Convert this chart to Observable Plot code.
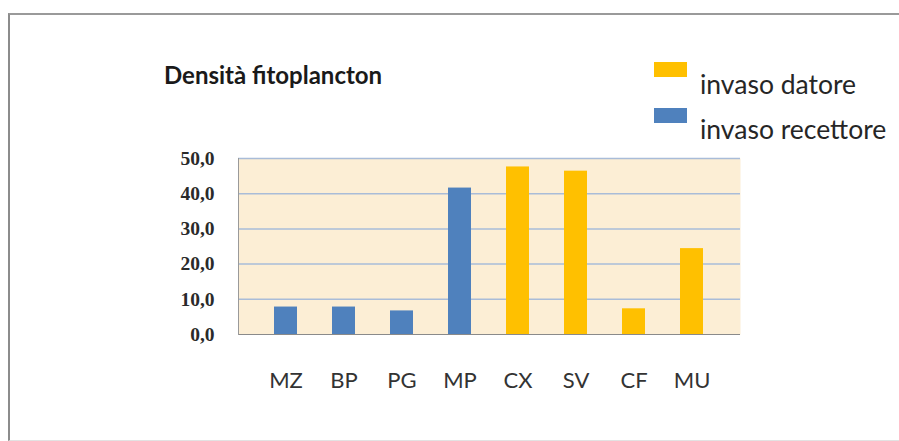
<!DOCTYPE html>
<html>
<head>
<meta charset="utf-8">
<script src="https://cdn.jsdelivr.net/npm/d3@7"></script>
<script src="https://cdn.jsdelivr.net/npm/@observablehq/plot@0.6"></script>
<style>
  html, body { margin: 0; padding: 0; background: #fff; }
  #wrap { position: relative; width: 899px; height: 441px; overflow: hidden; }
  #border { position: absolute; left: 8px; top: 13px; width: 900px; height: 425px;
            border-left: 2px solid #8c8c8c; border-top: 2px solid #9a9a9a; border-bottom: 1px solid #e2e2e2; }
  #title { position: absolute; left: 164px; top: 60px; font-family: Lato, sans-serif; font-weight: bold;
           font-size: 24px; color: #1a1a1a; white-space: nowrap; }
  .sw { position: absolute; left: 654px; width: 33px; height: 15px; }
  .lt { position: absolute; left: 700px; font-family: Lato, sans-serif; font-size: 26.5px; color: #262626; white-space: nowrap; }
  #chart { position: absolute; left: 0; top: 0; }
</style>
</head>
<body>
<div id="wrap">
  <div id="chart"></div>
  <div id="border"></div>
  <div id="title">Densità fitoplancton</div>
  <div class="sw" style="top:62px;background:#FFC000"></div>
  <div class="lt" style="top:68px">invaso datore</div>
  <div class="sw" style="top:108px;background:#4F81BD"></div>
  <div class="lt" style="top:113px">invaso recettore</div>
</div>
<script>
const sites = ["MZ", "BP", "PG", "MP", "CX", "SV", "CF", "MU"];
const values = [7.8, 7.8, 6.7, 41.6, 47.6, 46.4, 7.3, 24.4];
const groups = ["invaso recettore", "invaso recettore", "invaso recettore", "invaso recettore",
                "invaso datore", "invaso datore", "invaso datore", "invaso datore"];
const seriesNames = ["invaso datore", "invaso recettore"];
const seriesColors = ["#FFC000", "#4F81BD"];
const yTicks = [0, 10, 20, 30, 40, 50];

const data = sites.map((s, i) => ({site: s, value: values[i], group: groups[i]}));
const fmt = v => v.toFixed(1).replace(".", ",");

const chart = Plot.plot({
  width: 899,
  height: 441,
  marginLeft: 238,
  marginRight: 159,
  marginTop: 158,
  marginBottom: 107,
  x: {domain: sites, padding: 0.6, label: null},
  y: {domain: [0, 50], label: null},
  color: {domain: seriesNames, range: seriesColors},
  marks: [
    Plot.frame({fill: "#FCEED5", stroke: null}),
    Plot.ruleY(yTicks.filter(d => d > 0), {stroke: "#A9BCD8", strokeWidth: 1.5}),
    Plot.barY(data, {x: "site", y: "value", fill: "group"}),
    Plot.ruleY([0], {stroke: "#8a8a8a", strokeWidth: 1.2}),
    Plot.frame({anchor: "left", stroke: "#9a9a9a"}),
    Plot.axisY({ticks: yTicks, tickFormat: fmt, tickSize: 0, tickPadding: 24,
                fontFamily: "Liberation Serif", fontWeight: "bold", fontSize: 19.5, fill: "#2a2a2a"}),
    Plot.axisX({tickSize: 0, tickPadding: 38, fontFamily: "Lato", fontSize: 22, fill: "#333"})
  ]
});
document.getElementById("chart").appendChild(chart);
</script>
</body>
</html>
